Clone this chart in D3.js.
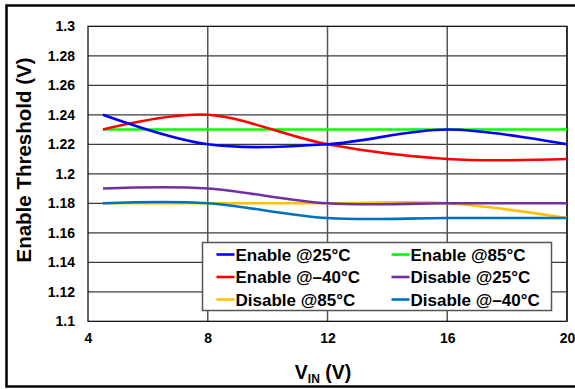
<!DOCTYPE html>
<html lang="en">
<head>
    <meta charset="utf-8">
    <title>Enable Threshold vs VIN</title>
    <script type="text/javascript" src="https://d3js.org/d3.v7.min.js"></script>
    <style>
        body { margin: 0; background: #fff; }
        svg { display: block; font-family: "Liberation Sans", Arial, sans-serif; font-weight: bold; }
    </style>
</head>
<body>
    <div id="container"></div>
    <script type="text/javascript">
        // data
        var vin = [4.5, 8, 12, 16, 20];
        var enable25 = [1.24, 1.22, 1.22, 1.23, 1.22];
        var enableM40 = [1.23, 1.24, 1.22, 1.21, 1.21];
        var enable85 = [1.23, 1.23, 1.23, 1.23, 1.23];
        var disable25 = [1.19, 1.19, 1.18, 1.18, 1.18];
        var disable85 = [1.18, 1.18, 1.18, 1.18, 1.17];
        var disableM40 = [1.18, 1.18, 1.17, 1.17, 1.17];

        var xTicks = [4, 8, 12, 16, 20];
        var yTicks = [1.1, 1.12, 1.14, 1.16, 1.18, 1.2, 1.22, 1.24, 1.26, 1.28, 1.3];
        var yTickLabels = ["1.1", "1.12", "1.14", "1.16", "1.18", "1.2", "1.22", "1.24", "1.26", "1.28", "1.3"];

        var series = [
            { name: "Enable @25\u00b0C", values: enable25, color: "#0000ff" },
            { name: "Enable @85\u00b0C", values: enable85, color: "#00ff00" },
            { name: "Enable @\u201340\u00b0C", values: enableM40, color: "#ff0000" },
            { name: "Disable @25\u00b0C", values: disable25, color: "#7030a0" },
            { name: "Disable @85\u00b0C", values: disable85, color: "#ffc000" },
            { name: "Disable @\u201340\u00b0C", values: disableM40, color: "#0070c0" }
        ];
        // draw order (legend order differs)
        var drawOrder = [4, 3, 5, 1, 2, 0];

        var w = 575, h = 389;
        var svg = d3.select("#container").append("svg")
            .attr("width", w).attr("height", h);

        // outer frame
        svg.append("rect")
            .attr("x", 6.5).attr("y", 5.5)
            .attr("width", 570).attr("height", 381)
            .attr("fill", "#fff").attr("stroke", "#000").attr("stroke-width", 2.5);

        var x = d3.scaleLinear().domain([4, 20]).range([88, 567]);
        var y = d3.scaleLinear().domain([1.1, 1.3]).range([321.3, 26.3]);

        // grid
        svg.append("g").selectAll("line")
            .data(yTicks.slice(1, -1))
            .enter().append("line")
            .attr("x1", x(4)).attr("x2", x(20))
            .attr("y1", d => y(d)).attr("y2", d => y(d))
            .attr("stroke", "#3a3a3a").attr("stroke-width", 1.2);

        svg.append("g").selectAll("line")
            .data(xTicks.slice(1, -1))
            .enter().append("line")
            .attr("x1", d => x(d)).attr("x2", d => x(d))
            .attr("y1", y(1.3)).attr("y2", y(1.1))
            .attr("stroke", "#555").attr("stroke-width", 1.5);

        // plot frame
        svg.append("rect")
            .attr("x", x(4)).attr("y", y(1.3))
            .attr("width", x(20) - x(4)).attr("height", y(1.1) - y(1.3))
            .attr("fill", "none").attr("stroke", "#000").attr("stroke-width", 1.2);
        svg.append("line")
            .attr("x1", x(20)).attr("x2", x(20))
            .attr("y1", y(1.3)).attr("y2", y(1.1))
            .attr("stroke", "#333").attr("stroke-width", 2);

        // axes (labels only)
        var yAxis = d3.axisLeft(y).tickValues(yTicks).tickSize(0).tickPadding(13)
            .tickFormat((d, i) => yTickLabels[i]);
        var gy = svg.append("g").attr("transform", "translate(" + x(4) + ",0)").call(yAxis);
        gy.select(".domain").remove();
        gy.selectAll("text").attr("font-size", 14).attr("font-weight", "bold")
            .attr("font-family", "Liberation Sans, Arial, sans-serif").attr("fill", "#000");

        var xAxis = d3.axisBottom(x).tickValues(xTicks).tickSize(0).tickPadding(12)
            .tickFormat(d3.format("d"));
        var gx = svg.append("g").attr("transform", "translate(0," + y(1.1) + ")").call(xAxis);
        gx.select(".domain").remove();
        gx.selectAll("text").attr("font-size", 14).attr("font-weight", "bold")
            .attr("font-family", "Liberation Sans, Arial, sans-serif").attr("fill", "#000");

        // lines
        var line = d3.line()
            .x((d, i) => x(vin[i]))
            .y(d => y(d))
            .curve(d3.curveCatmullRom.alpha(0));

        svg.append("g").selectAll("path")
            .data(drawOrder.map(i => series[i]))
            .enter().append("path")
            .attr("d", d => line(d.values))
            .attr("fill", "none")
            .attr("stroke", d => d.color)
            .attr("stroke-width", 2.6);

        // legend
        var lg = svg.append("g");
        lg.append("rect")
            .attr("x", 202.5).attr("y", 242.5).attr("width", 349).attr("height", 68)
            .attr("fill", "#fff").attr("stroke", "#555").attr("stroke-width", 1.5);

        var items = lg.selectAll("g.item")
            .data(series)
            .enter().append("g")
            .attr("class", "item")
            .attr("transform", (d, i) => "translate(" + (i % 2 === 0 ? 216.5 : 391.5) + "," + (254.5 + Math.floor(i / 2) * 22.5) + ")");
        items.append("line")
            .attr("x1", 0).attr("x2", 18).attr("y1", 0).attr("y2", 0)
            .attr("stroke", d => d.color).attr("stroke-width", 2.6);
        items.append("text")
            .attr("x", 19).attr("y", 6)
            .attr("font-size", 17)
            .text(d => d.name);

        // axis titles
        svg.append("text")
            .attr("transform", "translate(31,160) rotate(-90)")
            .attr("text-anchor", "middle")
            .attr("font-size", 20.5)
            .text("Enable Threshold (V)");

        var xt = svg.append("text")
            .attr("x", 323).attr("y", 379)
            .attr("text-anchor", "middle")
            .attr("font-size", 19.5);
        xt.append("tspan").text("V");
        xt.append("tspan").attr("font-size", 12).attr("dy", 4).text("IN");
        xt.append("tspan").attr("dy", -4).text(" (V)");
    </script>
</body>
</html>
